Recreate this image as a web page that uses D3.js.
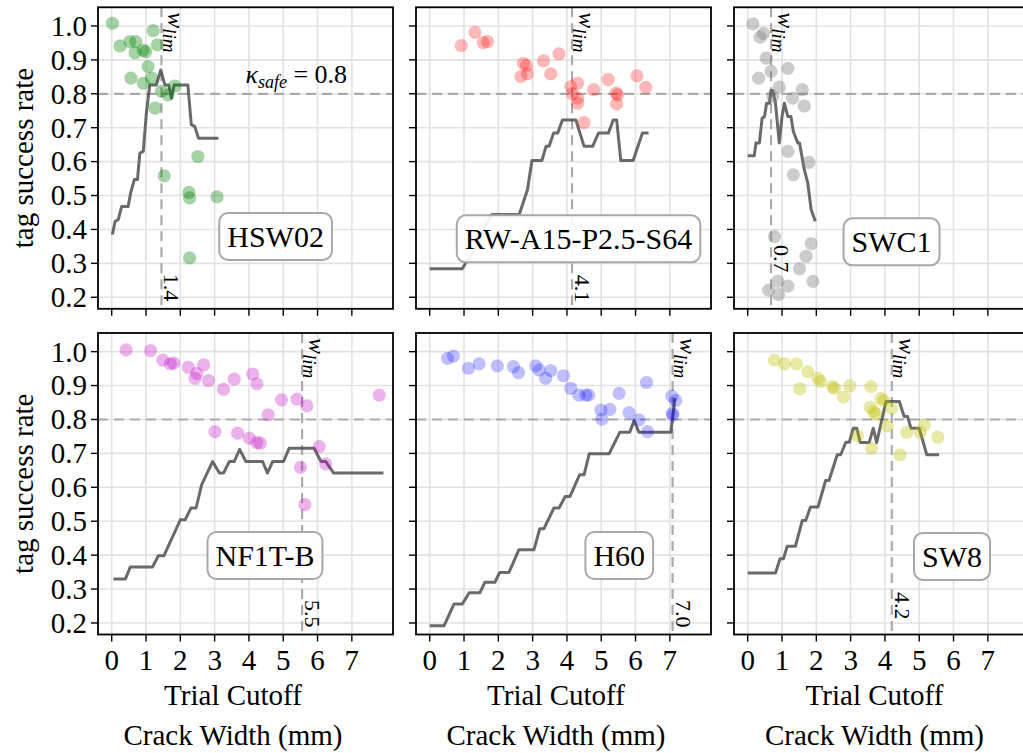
<!DOCTYPE html>
<html><head><meta charset="utf-8">
<script src="https://cdn.jsdelivr.net/npm/d3@7"></script>
<style>
body{margin:0;background:#fff}
svg{display:block}
</style>
</head><body>
<svg id="chart" width="1023" height="753" font-family="'Liberation Serif', 'Times New Roman', 'DejaVu Serif', 'Noto Serif', serif"></svg>
<script>
// ---------------- data ----------------
const panelNames = ["HSW02", "RW-A15-P2.5-S64", "SWC1", "NF1T-B", "H60", "SW8"];
const pointColors = ["#008000", "#ff0000", "#808080", "#bf00bf", "#0000ff", "#bfbf00"];
const pointAlpha = [0.35, 0.28, 0.4, 0.3, 0.25, 0.35];
const wlimValues = [1.45, 4.15, 0.68, 5.55, 7.08, 4.2];
const wlimLabels = ["1.4", "4.1", "0.7", "5.5", "7.0", "4.2"];
const wlimLabelEndY = [0.188, 0.185, 0.273, 0.187, 0.187, 0.21];
const kappaSafe = 0.8;
const xTicks = [0, 1, 2, 3, 4, 5, 6, 7];
const yTicks = [0.2, 0.3, 0.4, 0.5, 0.6, 0.7, 0.8, 0.9, 1.0];
const yTickLabels = ["0.2", "0.3", "0.4", "0.5", "0.6", "0.7", "0.8", "0.9", "1.0"];
const xLabelLines = ["Trial Cutoff", "Crack Width (mm)"];
const yLabel = "tag success rate";

const hsw02Points = [[0.02,1.008],[0.24,0.941],[0.53,0.954],[0.70,0.954],[0.68,0.921],[0.92,0.929],[0.99,0.924],[1.21,0.986],[1.33,0.944],[1.06,0.880],[0.56,0.846],[0.92,0.831],[1.16,0.846],[1.45,0.807],[1.64,0.797],[1.84,0.823],[1.26,0.758],[2.51,0.615],[1.53,0.558],[2.25,0.509],[2.27,0.493],[3.07,0.496],[2.27,0.316]];
const hsw02Line = [[0.02,0.385],[0.10,0.424],[0.19,0.429],[0.29,0.468],[0.48,0.468],[0.55,0.507],[0.66,0.547],[0.75,0.547],[0.82,0.625],[0.92,0.63],[1.01,0.743],[1.11,0.826],[1.30,0.826],[1.43,0.87],[1.55,0.826],[1.66,0.826],[1.74,0.787],[1.82,0.826],[2.22,0.826],[2.32,0.709],[2.42,0.704],[2.53,0.669],[3.11,0.669]];

const rwPoints = [[0.92,0.942],[1.32,0.981],[1.56,0.951],[1.69,0.954],[2.73,0.890],[2.82,0.883],[2.66,0.851],[2.85,0.859],[3.32,0.897],[3.53,0.859],[3.77,0.918],[4.11,0.821],[4.31,0.831],[4.16,0.800],[4.31,0.787],[4.31,0.772],[4.50,0.715],[4.78,0.812],[5.20,0.842],[5.43,0.802],[5.48,0.797],[5.45,0.770],[6.04,0.853],[6.30,0.819]];
const rwLine = [[0,0.284],[0.95,0.284],[1.05,0.301],[1.25,0.33],[1.45,0.37],[1.62,0.41],[1.81,0.444],[2.61,0.444],[2.85,0.517],[2.98,0.603],[3.27,0.603],[3.39,0.645],[3.48,0.645],[3.61,0.684],[3.73,0.684],[3.87,0.723],[4.26,0.723],[4.50,0.645],[4.75,0.645],[4.92,0.684],[5.21,0.684],[5.35,0.723],[5.45,0.723],[5.57,0.603],[5.93,0.603],[6.20,0.684],[6.38,0.684]];

const swc1Points = [[0.15,1.006],[0.36,0.967],[0.46,0.978],[0.54,0.905],[0.68,0.866],[0.32,0.846],[0.92,0.820],[1.17,0.875],[0.73,0.792],[1.31,0.787],[1.59,0.812],[1.65,0.764],[1.17,0.630],[1.78,0.598],[1.33,0.561],[0.78,0.379],[1.85,0.358],[1.70,0.321],[1.51,0.284],[1.90,0.247],[0.61,0.221],[0.88,0.247],[0.90,0.208],[1.17,0.233]];
const swc1Line = [[0,0.617],[0.19,0.617],[0.24,0.655],[0.34,0.655],[0.42,0.728],[0.49,0.733],[0.55,0.772],[0.63,0.772],[0.68,0.810],[0.73,0.810],[0.81,0.772],[0.92,0.655],[1.00,0.733],[1.07,0.772],[1.17,0.733],[1.26,0.733],[1.33,0.689],[1.46,0.655],[1.51,0.655],[1.65,0.576],[1.75,0.537],[1.85,0.458],[1.97,0.424]];

const nf1tPoints = [[0.42,1.005],[1.13,1.003],[1.49,0.975],[1.71,0.964],[1.81,0.966],[2.23,0.954],[2.48,0.936],[2.43,0.921],[2.68,0.961],[2.82,0.915],[3.26,0.889],[3.57,0.919],[4.11,0.934],[4.23,0.905],[4.56,0.814],[4.95,0.858],[5.40,0.860],[5.69,0.840],[7.80,0.872],[3.01,0.764],[3.67,0.760],[4.01,0.745],[4.23,0.732],[4.33,0.730],[6.05,0.720],[6.24,0.669],[5.50,0.659],[5.63,0.549]];
const nf1tLine = [[0.05,0.330],[0.40,0.330],[0.54,0.365],[1.19,0.365],[1.36,0.398],[1.52,0.398],[2.00,0.504],[2.14,0.504],[2.31,0.539],[2.46,0.539],[2.62,0.607],[2.94,0.676],[3.14,0.642],[3.26,0.642],[3.43,0.676],[3.57,0.676],[3.73,0.712],[3.91,0.676],[4.40,0.676],[4.54,0.642],[4.69,0.676],[5.01,0.676],[5.17,0.715],[5.90,0.715],[6.10,0.676],[6.24,0.676],[6.47,0.642],[7.92,0.642]];

const h60Points = [[0.52,0.980],[0.69,0.987],[1.13,0.951],[1.44,0.964],[1.97,0.958],[2.44,0.956],[2.59,0.938],[3.09,0.958],[3.19,0.946],[3.38,0.921],[3.53,0.944],[3.90,0.929],[4.11,0.892],[4.35,0.872],[4.55,0.872],[4.63,0.872],[4.99,0.828],[5.02,0.801],[5.25,0.830],[5.52,0.877],[5.81,0.820],[6.10,0.799],[6.32,0.909],[6.35,0.764],[7.06,0.869],[7.17,0.856],[7.07,0.818],[7.09,0.813]];
const h60Line = [[0,0.192],[0.42,0.192],[0.71,0.256],[0.95,0.256],[1.15,0.289],[1.46,0.289],[1.61,0.320],[1.90,0.320],[2.04,0.349],[2.31,0.349],[2.60,0.416],[3.04,0.416],[3.21,0.478],[3.33,0.478],[3.62,0.539],[3.77,0.539],[3.95,0.573],[4.09,0.573],[4.37,0.637],[4.50,0.637],[4.65,0.699],[5.23,0.699],[5.54,0.762],[5.83,0.762],[5.96,0.797],[6.10,0.762],[7.03,0.762],[7.15,0.863]];

const sw8Points = [[0.78,0.975],[1.07,0.964],[1.42,0.964],[1.75,0.941],[2.05,0.921],[2.12,0.912],[1.52,0.890],[2.47,0.897],[2.53,0.892],[2.79,0.866],[2.98,0.899],[3.59,0.897],[3.88,0.862],[3.96,0.856],[3.57,0.836],[3.68,0.823],[3.73,0.816],[4.19,0.833],[4.07,0.781],[3.20,0.752],[3.61,0.715],[4.44,0.696],[4.64,0.762],[5.03,0.762],[5.15,0.784],[5.54,0.748]];
const sw8Line = [[0,0.347],[0.81,0.347],[0.94,0.389],[1.04,0.389],[1.15,0.426],[1.39,0.426],[1.59,0.502],[1.69,0.502],[1.83,0.542],[2.05,0.542],[2.27,0.620],[2.37,0.620],[2.61,0.696],[2.71,0.696],[2.86,0.733],[2.96,0.733],[3.08,0.774],[3.18,0.774],[3.28,0.732],[3.54,0.732],[3.66,0.774],[3.76,0.732],[4.03,0.853],[4.42,0.853],[4.56,0.809],[4.66,0.809],[4.76,0.774],[5.00,0.774],[5.22,0.696],[5.58,0.696]];

const allPoints = [hsw02Points, rwPoints, swc1Points, nf1tPoints, h60Points, sw8Points];
const allLines = [hsw02Line, rwLine, swc1Line, nf1tLine, h60Line, sw8Line];
// label box centres, in axes fractions (from left, from top)
const boxPos = [[0.602,0.76],[0.551,0.768],[0.534,0.778],[0.566,0.738],[0.689,0.738],[0.739,0.741]];

// ---------------- layout ----------------
const colX = [98, 416, 734];
const rowY = [7.3, 333];
const pw = 295, ph = 301.5;
const xDomain = [-0.4, 8.2];
const yDomain = [0.166, 1.055];
const xLabelCenters = [233, 556, 874.5];

const svg = d3.select("#chart");
const FS = 29;

panelNames.forEach((name, i) => {
  const r = Math.floor(i / 3), c = i % 3;
  const x0 = colX[c], y0 = rowY[r];
  const x = d3.scaleLinear().domain(xDomain).range([x0, x0 + pw]);
  const y = d3.scaleLinear().domain(yDomain).range([y0 + ph, y0]);
  const g = svg.append("g");
  const clipId = "clip" + i;
  svg.append("clipPath").attr("id", clipId).append("rect")
    .attr("x", x0).attr("y", y0).attr("width", pw).attr("height", ph);
  const inner = g.append("g").attr("clip-path", `url(#${clipId})`);

  // grid
  inner.selectAll(".gx").data(xTicks).join("line")
    .attr("x1", d => x(d)).attr("x2", d => x(d)).attr("y1", y0).attr("y2", y0 + ph)
    .attr("stroke", "#e2e2e2").attr("stroke-width", 1.6);
  inner.selectAll(".gy").data(yTicks).join("line")
    .attr("x1", x0).attr("x2", x0 + pw).attr("y1", d => y(d)).attr("y2", d => y(d))
    .attr("stroke", "#e2e2e2").attr("stroke-width", 1.6);

  // dashed reference lines
  inner.append("line").attr("x1", x0).attr("x2", x0 + pw)
    .attr("y1", y(kappaSafe)).attr("y2", y(kappaSafe))
    .attr("stroke", "#aaaaaa").attr("stroke-width", 2.2).attr("stroke-dasharray", "10,6");
  inner.append("line").attr("x1", x(wlimValues[i])).attr("x2", x(wlimValues[i]))
    .attr("y1", y0).attr("y2", y0 + ph)
    .attr("stroke", "#aaaaaa").attr("stroke-width", 2.2).attr("stroke-dasharray", "10,6");

  // success-rate line
  inner.append("path").datum(allLines[i])
    .attr("d", d3.line().x(d => x(d[0])).y(d => y(d[1])))
    .attr("fill", "none").attr("stroke", "#505050").attr("stroke-opacity", 0.85)
    .attr("stroke-width", 3).attr("stroke-linejoin", "round");

  // scatter
  inner.selectAll("circle").data(allPoints[i]).join("circle")
    .attr("cx", d => x(d[0])).attr("cy", d => y(d[1])).attr("r", 6.6)
    .attr("fill", pointColors[i]).attr("fill-opacity", pointAlpha[i]);

  // w_lim text
  const xl = x(wlimValues[i]);
  const wt = inner.append("text")
    .attr("transform", `translate(${xl + 7},${y0 + 5}) rotate(90)`)
    .attr("font-size", 24).attr("font-style", "italic");
  wt.append("tspan").text("w");
  wt.append("tspan").attr("font-size", 19).attr("dy", "0.3em").text("lim");

  // w_lim value
  inner.append("text")
    .attr("transform", `translate(${xl + 3},${y(wlimLabelEndY[i])}) rotate(90)`)
    .attr("text-anchor", "end").attr("font-size", 22)
    .text(wlimLabels[i]);

  // kappa label in first panel
  if (i === 0) {
    const kt = inner.append("text").attr("x", x(5.38)).attr("y", y(0.832))
      .attr("text-anchor", "middle").attr("font-size", 26);
    kt.append("tspan").attr("font-style", "italic").text("κ");
    kt.append("tspan").attr("font-style", "italic").attr("font-size", 18).attr("dy", "0.3em").text("safe");
    kt.append("tspan").attr("dy", "-0.22em").text(" = 0.8");
  }

  // frame
  g.append("rect").attr("x", x0).attr("y", y0).attr("width", pw).attr("height", ph)
    .attr("fill", "none").attr("stroke", "#000").attr("stroke-width", 1.8);

  // ticks
  g.selectAll(".tx").data(xTicks).join("line")
    .attr("x1", d => x(d)).attr("x2", d => x(d)).attr("y1", y0 + ph).attr("y2", y0 + ph + 7)
    .attr("stroke", "#000").attr("stroke-width", 1.4);
  g.selectAll(".ty").data(yTicks).join("line")
    .attr("x1", x0).attr("x2", x0 - 7).attr("y1", d => y(d)).attr("y2", d => y(d))
    .attr("stroke", "#000").attr("stroke-width", 1.4);

  if (c === 0) {
    g.selectAll(".tyl").data(yTicks).join("text")
      .attr("x", x0 - 11).attr("y", d => y(d)).attr("dy", "0.34em")
      .attr("text-anchor", "end").attr("font-size", FS)
      .text((d, k) => yTickLabels[k]);
    g.append("text")
      .attr("transform", `translate(24,${y0 + ph / 2}) rotate(-90)`)
      .attr("text-anchor", "middle").attr("dy", "0.3em").attr("font-size", FS)
      .text(yLabel);
  }
  if (r === 1) {
    g.selectAll(".txl").data(xTicks).join("text")
      .attr("x", d => x(d)).attr("y", y0 + ph + 35)
      .attr("text-anchor", "middle").attr("font-size", FS)
      .text(d => d);
    xLabelLines.forEach((t, k) => {
      g.append("text").attr("x", xLabelCenters[c]).attr("y", 705 + k * 40)
        .attr("text-anchor", "middle").attr("font-size", FS).text(t);
    });
  }

  // label box
  const bx = x0 + boxPos[i][0] * pw, by = y0 + boxPos[i][1] * ph;
  const bg = g.append("g");
  const rect = bg.append("rect");
  const txt = bg.append("text").attr("x", bx).attr("y", by).attr("dy", "0.34em")
    .attr("text-anchor", "middle").attr("font-size", 30).text(name);
  const bb = txt.node().getBBox();
  rect.attr("x", bb.x - 8).attr("y", by - 23.5).attr("width", bb.width + 16).attr("height", 47)
    .attr("rx", 9).attr("fill", "#fff").attr("fill-opacity", 0.92)
    .attr("stroke", "#a8a8a8").attr("stroke-width", 2);
});
</script>
</body></html>
